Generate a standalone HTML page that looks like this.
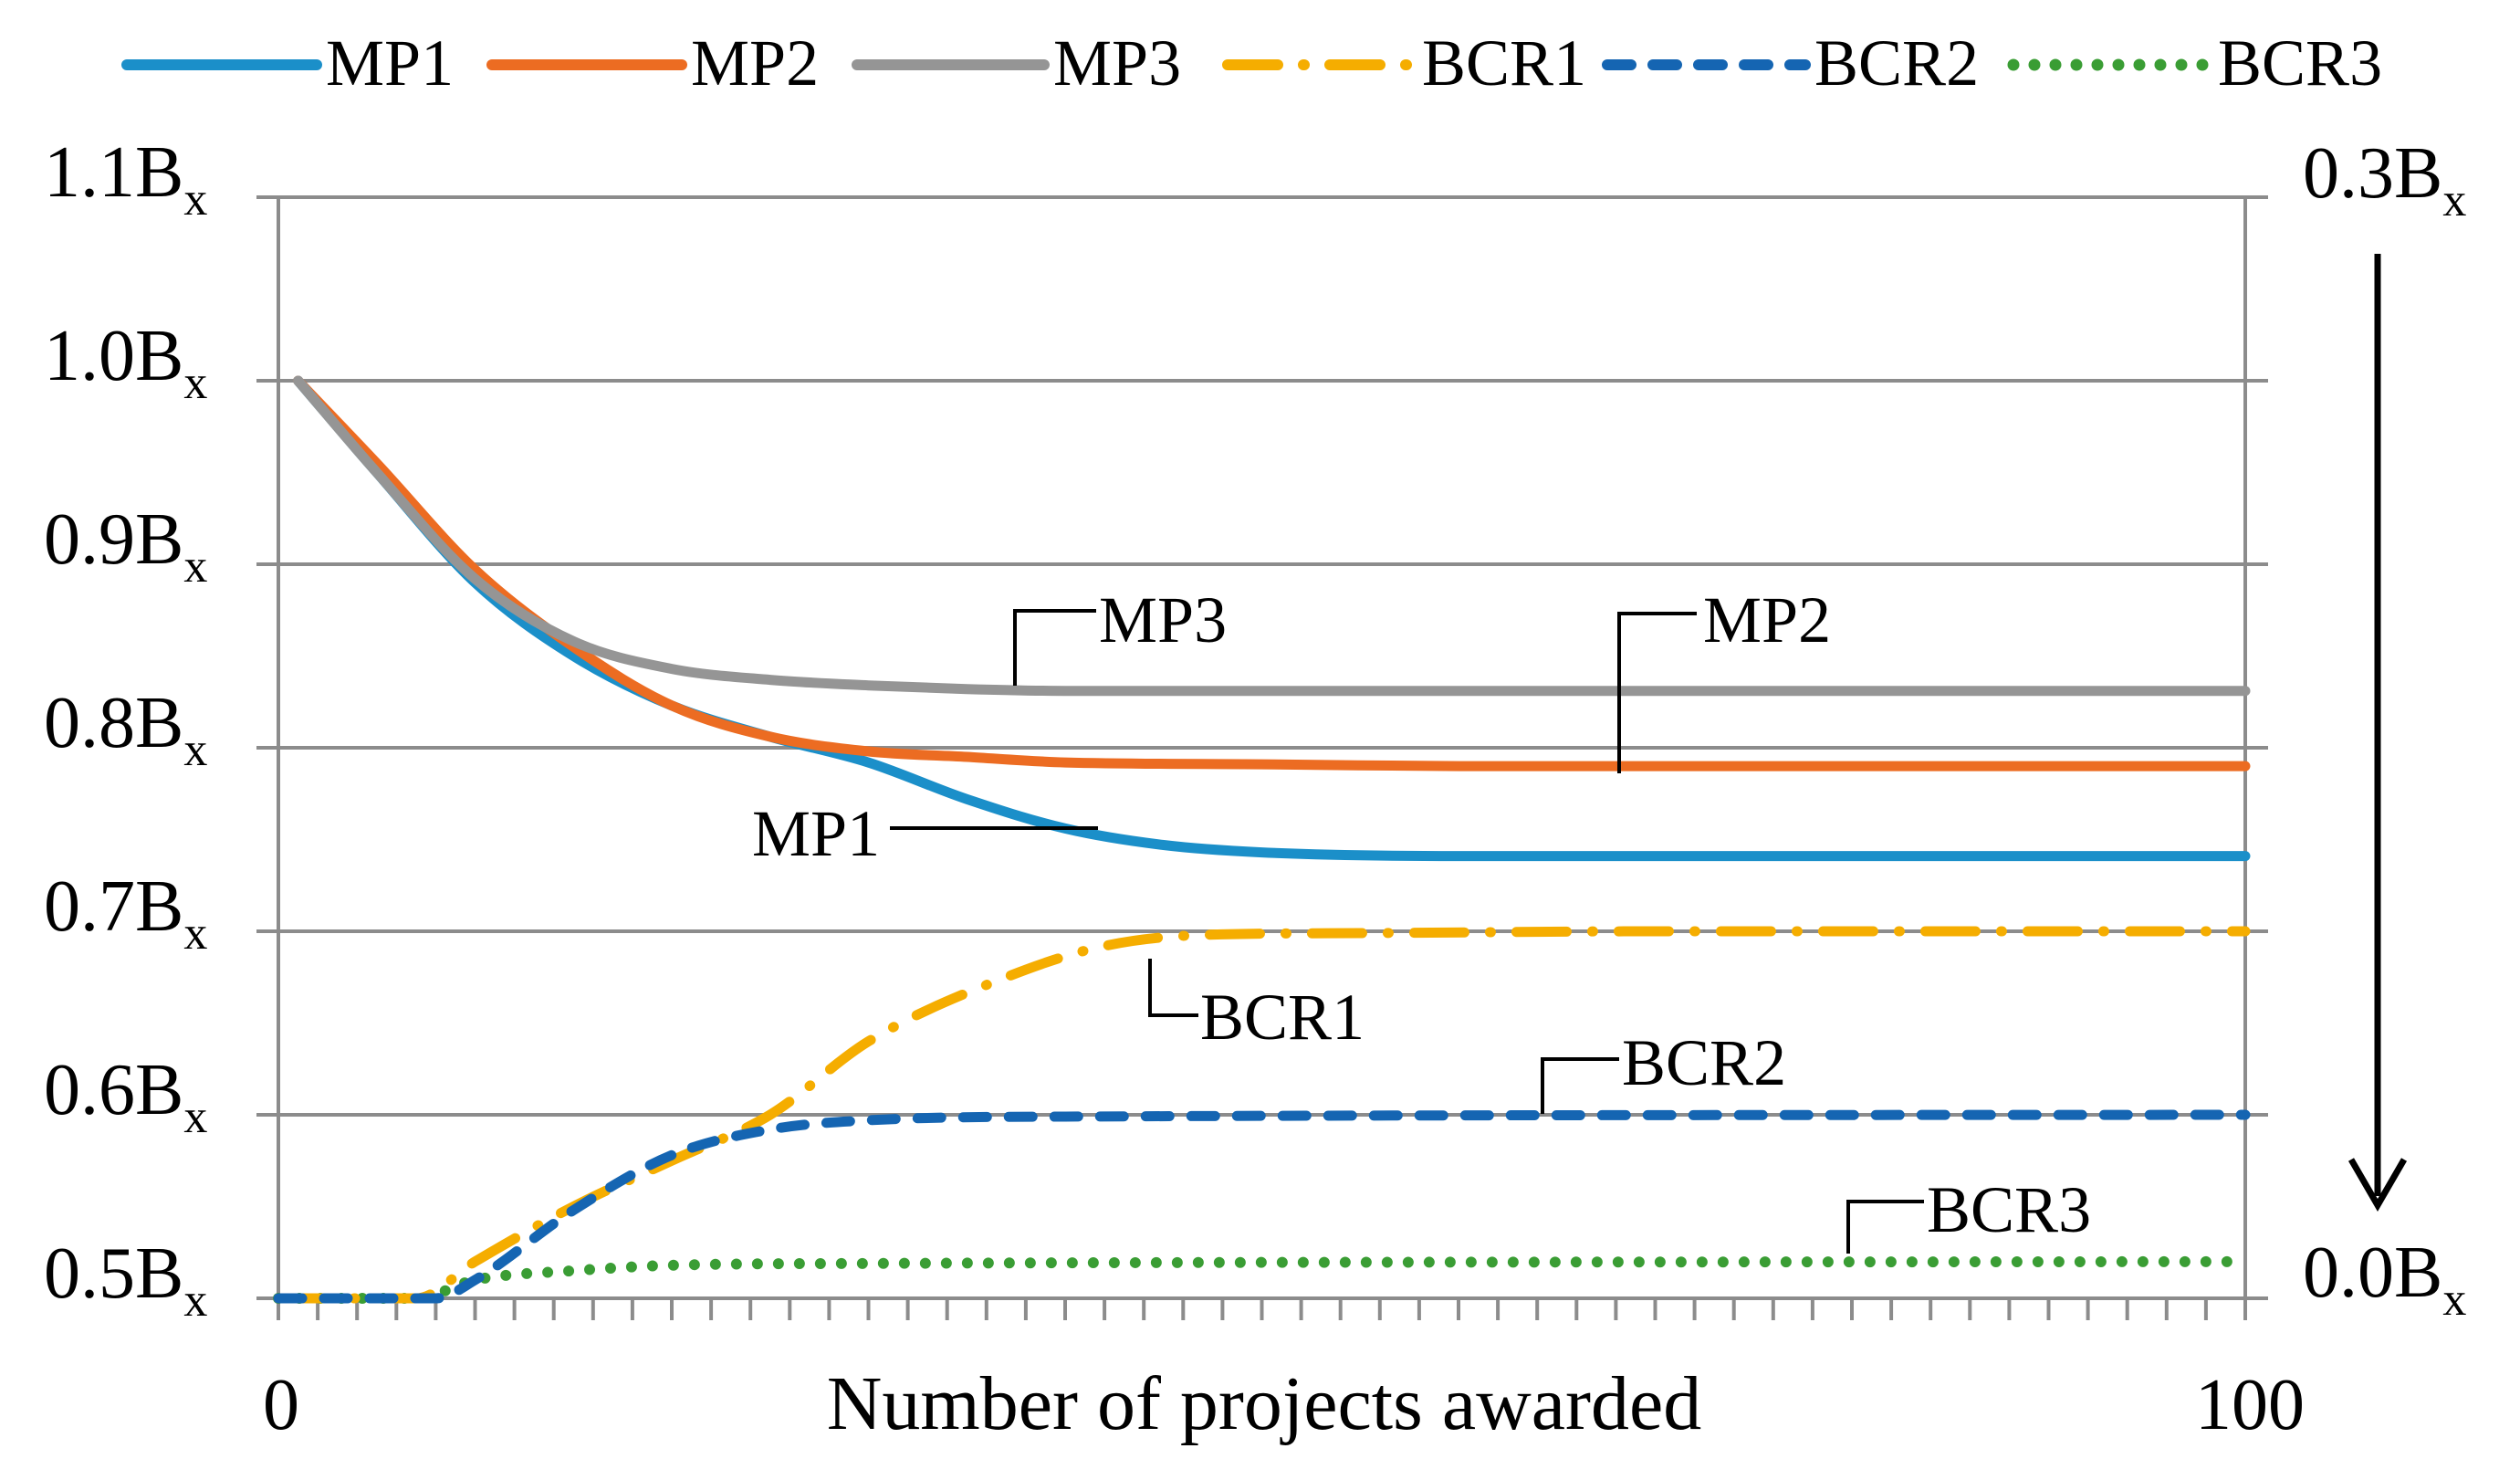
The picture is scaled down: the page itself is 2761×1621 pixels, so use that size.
<!DOCTYPE html>
<html><head><meta charset="utf-8"><style>
html,body{margin:0;padding:0;background:#fff}
svg{display:block}
text{font-family:"Liberation Serif",serif;fill:#000}
</style></head><body>
<svg id="chart" width="2761" height="1621" viewBox="0 0 2761 1621" xmlns="http://www.w3.org/2000/svg">
<g id="grid"></g>
<g id="axes"></g>
<g id="series"></g>
<g id="labels"></g>
<g id="legend"></g>
<g id="annot"></g>
</svg>
<script>
const yTicks=[0.5,0.6,0.7,0.8,0.9,1.0,1.1];
const yTickLabels=["0.5B","0.6B","0.7B","0.8B","0.9B","1.0B","1.1B"];
const seriesNames=["MP1","MP2","MP3","BCR1","BCR2","BCR3"];
const mp1X=[1,5,10,15,20,25,30,35,40,45,50,60,100];
const mp1Y=[1.0,0.95,0.89,0.85,0.823,0.806,0.792,0.772,0.756,0.747,0.743,0.741,0.741];
const mp2X=[1,5,10,15,20,25,30,35,40,50,60,100];
const mp2Y=[1.0,0.955,0.897,0.855,0.823,0.806,0.798,0.795,0.792,0.791,0.79,0.79];
const mp3X=[1,5,10,15,20,25,30,35,40,100];
const mp3Y=[1.0,0.95,0.892,0.858,0.843,0.837,0.834,0.832,0.831,0.831];
const bcr1X=[0,7,10,15,20,25,30,37,42,47,55,70,100];
const bcr1Y=[0.5,0.5,0.52,0.55,0.575,0.6,0.64,0.675,0.692,0.698,0.699,0.7,0.7];
const bcr2X=[0,8,10,15,20,25,30,40,100];
const bcr2Y=[0.5,0.5,0.51,0.548,0.578,0.592,0.597,0.599,0.6];
const bcr3X=[0,7,10,15,20,30,100];
const bcr3Y=[0.5,0.5,0.51,0.515,0.518,0.519,0.52];

const NS="http://www.w3.org/2000/svg";
const X=v=>305+v*(2460-305)/100;
const Y=v=>1422-(v-0.5)*2010;
function mk(tag,attrs,parent){const e=document.createElementNS(NS,tag);for(const k in attrs)e.setAttribute(k,attrs[k]);parent.appendChild(e);return e;}
const grid=document.getElementById('grid'),axes=document.getElementById('axes'),series=document.getElementById('series'),labels=document.getElementById('labels'),legend=document.getElementById('legend'),annot=document.getElementById('annot');
const GC="#8c8c8c";
yTicks.forEach((t,i)=>{
  const l=mk('line',{x1:281,x2:2485,y1:Y(t),y2:Y(t),stroke:GC,'stroke-width':4},grid);
  
  
  const tx=mk('text',{x:48,y:Y(t)-1,'font-size':80},labels);
  
  
  tx.textContent=yTickLabels[i];
  const sub=mk('tspan',{'font-size':52,dy:20},tx);sub.textContent="x";
});
let a=mk('line',{x1:305,x2:305,y1:216,y2:1422,stroke:GC,'stroke-width':4},axes);

a=mk('line',{x1:2460,x2:2460,y1:216,y2:1422,stroke:GC,'stroke-width':4},axes);

for(let v=0;v<=100;v+=2){
  const t=mk('line',{x1:X(v),x2:X(v),y1:1422,y2:1446,stroke:GC,'stroke-width':4},axes);
  
  
}
function txt(x,y,s,size,name,parent){const t=mk('text',{x:x,y:y,'font-size':size},parent||labels);t.textContent=s;return t;}
txt(288,1565,"0",80,"x-tick-label-0");
txt(2405,1565,"100",80,"x-tick-label-100");
const xt=txt(1385,1565,"Number of projects awarded",84,"x-axis-title");xt.setAttribute('text-anchor','middle');
let r=txt(2523,216,"0.3B",80,"right-label-top");let s=mk('tspan',{'font-size':52,dy:20},r);s.textContent="x";
r=txt(2523,1420,"0.0B",80,"right-label-bottom");s=mk('tspan',{'font-size':52,dy:20},r);s.textContent="x";
a=mk('line',{x1:2605,x2:2605,y1:278,y2:1310,stroke:'#000','stroke-width':7},labels);

a=mk('polyline',{points:"2576,1270 2605,1320 2634,1270",fill:'none',stroke:'#000','stroke-width':7},labels);


const styles=[
 {c:"#1b8fc9",w:11,d:null,cap:"round"},
 {c:"#ec6c22",w:11,d:null,cap:"round"},
 {c:"#959595",w:11,d:null,cap:"round"},
 {c:"#f5ad00",w:11,d:"55 28 1 28",cap:"round"},
 {c:"#1565b2",w:11,d:"26 24",cap:"round"},
 {c:"#3a9d34",w:12,d:"0 23",cap:"round"}];
const xs=[mp1X,mp2X,mp3X,bcr1X,bcr2X,bcr3X],ys=[mp1Y,mp2Y,mp3Y,bcr1Y,bcr2Y,bcr3Y];
// monotone cubic (Fritsch-Carlson) — no overshoot
function smoothPath(px,py){
  const xp=px.map(X),yp=py.map(Y),n=xp.length;
  const dl=[],m=[];
  for(let k=0;k<n-1;k++)dl.push((yp[k+1]-yp[k])/(xp[k+1]-xp[k]));
  m[0]=dl[0];m[n-1]=dl[n-2];
  for(let k=1;k<n-1;k++){m[k]=(dl[k-1]*dl[k]<=0)?0:(dl[k-1]+dl[k])/2;}
  for(let k=0;k<n-1;k++){
    if(dl[k]===0){m[k]=0;m[k+1]=0;continue;}
    const al=m[k]/dl[k],be=m[k+1]/dl[k],h=al*al+be*be;
    if(h>9){const t=3/Math.sqrt(h);m[k]=t*al*dl[k];m[k+1]=t*be*dl[k];}
  }
  let d="M"+xp[0].toFixed(1)+","+yp[0].toFixed(1);
  for(let k=0;k<n-1;k++){
    const h=(xp[k+1]-xp[k])/3;
    d+=" C"+(xp[k]+h).toFixed(1)+","+(yp[k]+m[k]*h).toFixed(1)+" "+(xp[k+1]-h).toFixed(1)+","+(yp[k+1]-m[k+1]*h).toFixed(1)+" "+xp[k+1].toFixed(1)+","+yp[k+1].toFixed(1);
  }
  return d;
}
const order=[5,3,4,0,1,2];
order.forEach(i=>{
  const st=styles[i];
  const p=mk('path',{d:smoothPath(xs[i],ys[i]),fill:'none',stroke:st.c,'stroke-width':st.w,'stroke-linecap':st.cap,'stroke-linejoin':'round'},series);
  if(st.d)p.setAttribute('stroke-dasharray',st.d);
  
  
});
const legLine=[[139,347],[539,747],[939,1144],[1345,1548],[1761,1978],[2206,2420]];
seriesNames.forEach((n,i)=>{
  const st=styles[i];
  const g=mk('g',{},legend);
  
  
  const l=mk('line',{x1:legLine[i][0],x2:legLine[i][1],y1:71,y2:71,stroke:st.c,'stroke-width':st.w+1,'stroke-linecap':st.cap},g);
  if(st.d)l.setAttribute('stroke-dasharray',st.d);
  const t=mk('text',{x:legLine[i][1]+10,y:93,'font-size':72},g);t.textContent=n;
});
function callout(pts,tx,ty,s){
  const p=mk('polyline',{points:pts,fill:'none',stroke:'#000','stroke-width':4},annot);
  
  
  txt(tx,ty,s,72,'callout-label-'+s.toLowerCase(),annot);
}
callout("1112,751 1112,669 1201,669",1204,703,"MP3");
callout("1774,847 1774,672 1859,672",1866,703,"MP2");
callout("975,907 1203,907",824,937,"MP1");
callout("1260,1050 1260,1112 1313,1112",1315,1138,"BCR1");
callout("1690,1220 1690,1160 1774,1160",1777,1188,"BCR2");
callout("2025,1373 2025,1316 2108,1316",2111,1349,"BCR3");
</script>
</body></html>
